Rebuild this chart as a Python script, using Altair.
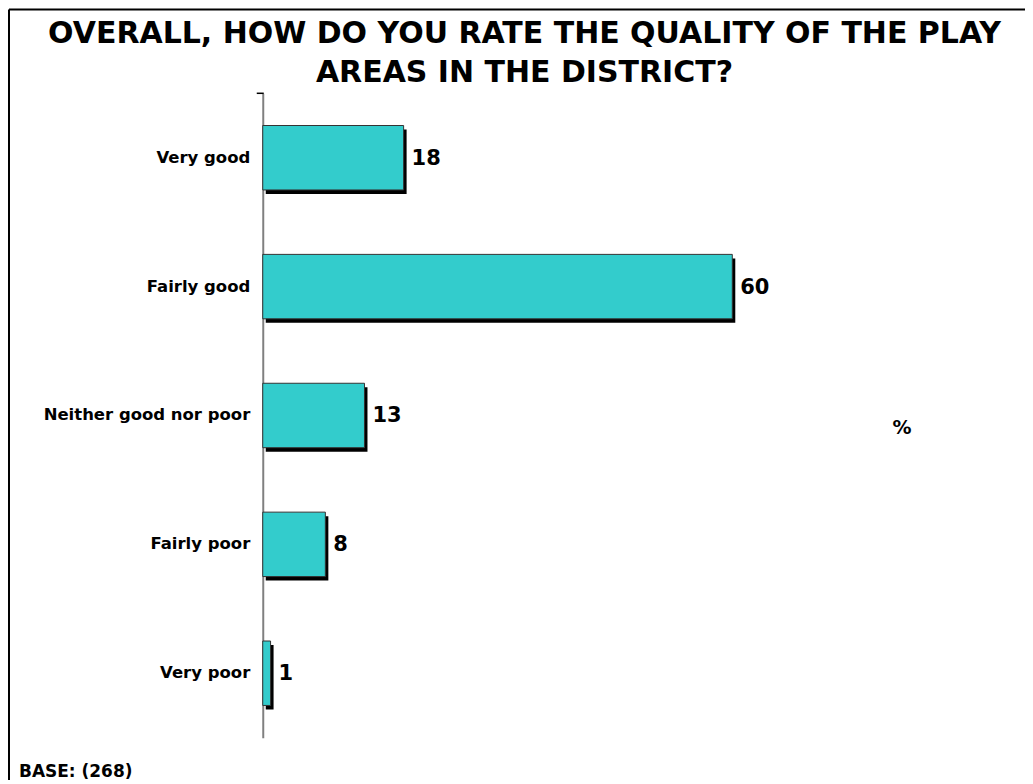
import altair as alt
import pandas as pd

categories = ["Very good", "Fairly good", "Neither good nor poor", "Fairly poor", "Very poor"]
values = [18, 60, 13, 8, 1]
title_lines = ["OVERALL, HOW DO YOU RATE THE QUALITY OF THE PLAY", "AREAS IN THE DISTRICT?"]
unit_label = "%"
base_label = "BASE: (268)"

FONT = "DejaVu Sans"
df = pd.DataFrame({"cat": categories, "val": values})

x_enc = alt.X("val:Q", scale=alt.Scale(domain=[0, 60], range=[252, 722]), axis=None)
y_enc = alt.Y(
    "cat:N",
    sort=categories,
    scale=alt.Scale(range=[83, 728], paddingInner=0.5, paddingOuter=0.25),
    axis=alt.Axis(
        title=None, orient="left", offset=-252, ticks=False, labelPadding=13, labelLimit=400,
        labelFont=FONT, labelFontWeight="bold", labelFontSize=16.5, labelColor="black",
        domainColor="#808080", domainWidth=2, grid=False,
    ),
)

base = alt.Chart(df)
shadow = base.mark_bar(color="black", xOffset=3, x2Offset=3, yOffset=4, y2Offset=4).encode(
    x=x_enc, y=y_enc
)
bars = base.mark_bar(color="#33CCCC", stroke="#333333", strokeWidth=1).encode(x=x_enc, y=y_enc)
labels = base.mark_text(
    align="left", baseline="middle", dx=8, dy=1, font=FONT, fontWeight="bold", fontSize=21, color="black"
).encode(x=x_enc, y=y_enc, text="val:Q")

one = pd.DataFrame({"k": [0]})
title = alt.Chart(one).mark_text(
    text=title_lines, align="center", baseline="alphabetic", lineHeight=39,
    font=FONT, fontWeight="bold", fontSize=30, color="black",
).encode(x=alt.value(514), y=alt.value(33))
pct = alt.Chart(one).mark_text(
    text=unit_label, align="center", baseline="middle", font=FONT, fontWeight="bold", fontSize=19, color="black"
).encode(x=alt.value(892), y=alt.value(418))
base_txt = alt.Chart(one).mark_text(
    text=base_label, align="left", baseline="alphabetic", font=FONT, fontWeight="bold", fontSize=17, color="black"
).encode(x=alt.value(8), y=alt.value(767))

frame_top = alt.Chart(one).mark_rule(color="black", strokeWidth=2).encode(
    x=alt.value(-2), x2=alt.value(1040), y=alt.value(-1)
)
frame_left = alt.Chart(one).mark_rule(color="black", strokeWidth=2).encode(
    x=alt.value(-2), y=alt.value(-1), y2=alt.value(800)
)
top_tick = alt.Chart(one).mark_rule(color="black", strokeWidth=1.5).encode(
    x=alt.value(246), x2=alt.value(253), y=alt.value(83)
)

chart = alt.layer(
    frame_top, frame_left, shadow, bars, labels, top_tick, title, pct, base_txt
).properties(
    width=1015, height=770,
    autosize=alt.AutoSizeParams(type="none"),
    padding={"left": 3, "top": 2, "right": 0, "bottom": 0},
    background="white",
).configure_view(stroke=None)

chart.save("out.html", embed_options={"renderer": "svg", "actions": False})
